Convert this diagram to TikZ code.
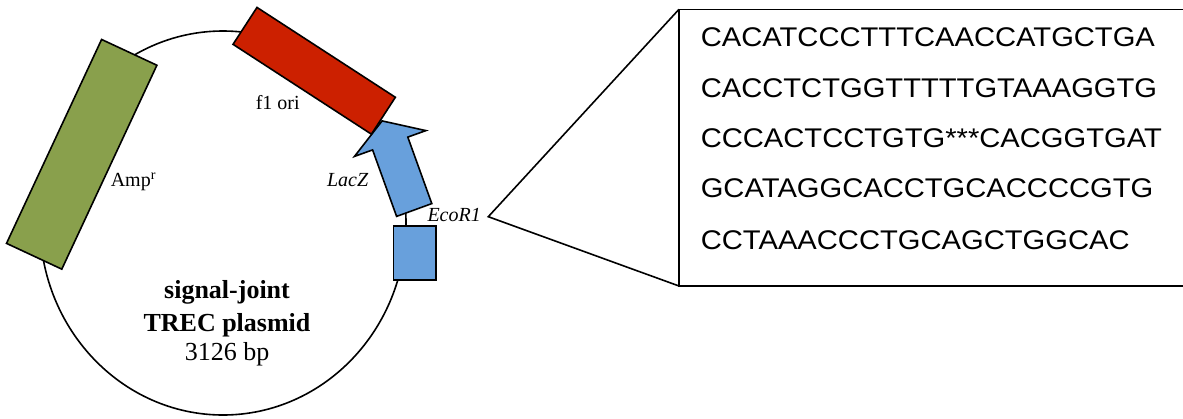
\documentclass[tikz,border=0pt]{standalone}
\usepackage{fontspec}
\setmainfont{Liberation Serif}
\newfontfamily\seqfont[FakeStretch=1.08]{Liberation Sans}
\definecolor{ampgreen}{RGB}{137,160,76}
\definecolor{orired}{RGB}{204,32,0}
\definecolor{lacblue}{RGB}{104,160,220}
\begin{document}
\begin{tikzpicture}[x=1pt,y=-1pt,line width=1.6pt,line join=miter,
  gene/.style={draw=black,rectangle,inner sep=0pt,outer sep=0pt},
  sidelabel/.style={font=\fontsize{20}{22}\selectfont,inner sep=0pt},
  centerlabel/.style={font=\fontsize{26}{28}\selectfont,inner sep=0pt,anchor=base},
  seq/.style={font=\seqfont\fontsize{27}{27}\selectfont,inner sep=0pt,anchor=base west}]
\useasboundingbox (0,0) rectangle (1183,418);
\clip (0,0) rectangle (1183,418);
% backbone
\draw (223,223) ellipse [x radius=183, y radius=192];
% LacZ arrow
\draw[fill=lacblue] (382.1,120.9) -- (425.9,130.6) -- (407.8,137.1) -- (431.8,203.6)
  -- (396.6,216.4) -- (372.6,149.9) -- (354.5,156.4) -- cycle;
% small blue box
\node[gene,fill=lacblue,minimum width=42.7,minimum height=54] (site) at (414.7,253) {};
% Amp resistance
\node[gene,fill=ampgreen,minimum width=225,minimum height=61,rotate=65] (amp) at (81.7,154.3) {};
% f1 ori
\node[gene,fill=orired,minimum width=165,minimum height=44,rotate=-33] (ori) at (314.2,70.8) {};
% labels
\node[sidelabel,anchor=base west] (amplab) at (110,186.7) {Amp\textsuperscript{r}};
\node[sidelabel,anchor=base west] (orilab) at (255,109.3) {f1 ori};
\node[sidelabel,anchor=base east] (laclab) at (369,186.7) {\itshape LacZ};
\node[sidelabel,anchor=base west] (ecolab) at (426.7,221.7) {\itshape EcoR1};
\node[centerlabel] (name1) at (227,298.3) {\bfseries signal-joint};
\node[centerlabel] (name2) at (227,331.7) {\bfseries TREC plasmid};
\node[centerlabel] (size) at (227,360.5) {3126 bp};
% sequence box
\node[gene,minimum width=521,minimum height=276.7] (seqbox) at (939.5,147.65) {};
\coordinate (eco) at (488.3,216.7);
\draw (seqbox.north west) -- (eco) -- (seqbox.south west);
\node[seq] (s1) at (700,46.7) {CACATCCCTTTCAACCATGCTGA};
\node[seq] (s2) at (700,97.7) {CACCTCTGGTTTTTGTAAAGGTG};
\node[seq] (s3) at (700,147.7) {CCCACTCCTGTG***CACGGTGAT};
\node[seq] (s4) at (700,197.7) {GCATAGGCACCTGCACCCCGTG};
\node[seq] (s5) at (700,249.3) {CCTAAACCCTGCAGCTGGCAC};
\end{tikzpicture}
\end{document}
